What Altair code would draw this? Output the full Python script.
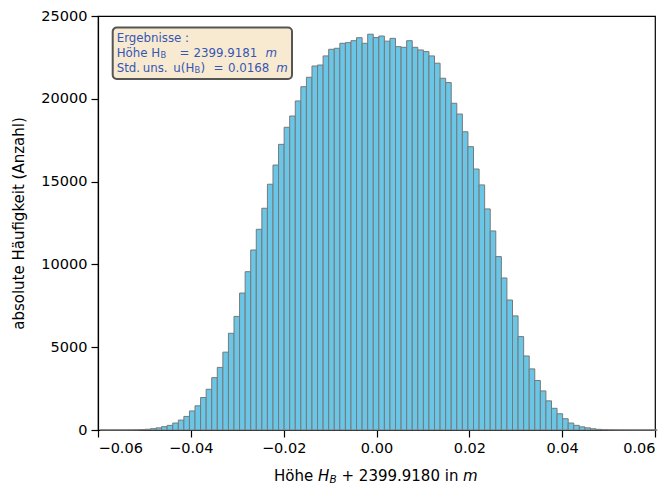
import altair as alt
import pandas as pd

# ---- data ----
bin_start0 = -0.0595
bin_width = 0.0012
counts = [
    0, 0, 1, 2, 3, 6, 12, 25,
    45, 80, 130, 200, 280, 420, 600, 820, 1150, 1460,
    1960, 2460, 3160, 3780, 4700, 5840, 6860, 8270, 9560, 10870,
    12120, 13390, 14840, 16000, 17250, 18280, 18960, 19870, 20730, 21300,
    21980, 22040, 22590, 22990, 23050, 23350, 23390, 23510, 23690, 23350,
    23900, 23700, 23790, 23480, 23650, 23150, 23110, 23510, 23110, 22950,
    22850, 22590, 22150, 21240, 20980, 19730, 19080, 18010, 17110, 15760,
    14800, 13350, 12020, 10470, 9180, 7850, 6890, 5640, 4470, 3690,
    2990, 2360, 1760, 1310, 980, 680, 420, 280, 190, 130,
    75, 40, 20, 10, 5, 2, 1, 0, 0, 0, 0, 0,
]
x_ticks = [-0.06, -0.04, -0.02, 0.0, 0.02, 0.04, 0.06]
y_ticks = [0, 5000, 10000, 15000, 20000, 25000]

starts = [bin_start0 + bin_width * i for i in range(len(counts))]
ends = [s + bin_width for s in starts]
df = pd.DataFrame({"start": starts, "end": ends, "count": counts})

FONT = "DejaVu Sans"
BLUE = "#3556b5"
one = pd.DataFrame({"a": [0]})

bars = alt.Chart(df).mark_bar(
    fill="#69c6e7", stroke="#787878", strokeWidth=1, orient="vertical"
).encode(
    x=alt.X("start:Q",
            scale=alt.Scale(domain=[-0.06, 0.06], nice=False, zero=False, padding=0),
            axis=alt.Axis(values=x_ticks, format=".2f", title=None)),
    x2="end:Q",
    y=alt.Y("count:Q",
            scale=alt.Scale(domain=[0, 25000], nice=False, padding=0),
            axis=alt.Axis(values=y_ticks, format="d",
                          title="absolute Häufigkeit (Anzahl)")),
    y2=alt.datum(0),
)


def txt(s, x, y, size=11.8, italic=False, color=BLUE):
    kw = dict(text=s, align="left", baseline="middle", fontSize=size,
              font=FONT, color=color)
    if italic:
        kw["fontStyle"] = "italic"
    return alt.Chart(one).mark_text(**kw).encode(x=alt.value(x), y=alt.value(y))


box = alt.Chart(one).mark_rect(
    fill="#f8ead0", stroke="#555555", strokeWidth=2, cornerRadius=4
).encode(x=alt.value(14.7), x2=alt.value(194), y=alt.value(11.5), y2=alt.value(63))

legend_texts = [
    txt("Ergebnisse :", 18.7, 22.3),
    txt("Höhe H", 18.7, 37.3),
    txt("B", 62.4, 40.3, size=8.3),
    txt("=", 81.5, 37.3),
    txt("2399.9181", 95.5, 37.3),
    txt("m", 167.5, 37.3, italic=True),
    txt("Std.", 18.7, 51.7),
    txt("uns.", 44.7, 51.7),
    txt("u(H", 75.3, 51.7),
    txt("B", 96.5, 54.7, size=8.3),
    txt(")", 102.4, 51.7),
    txt("=", 115.5, 51.7),
    txt("0.0168", 130.0, 51.7),
    txt("m", 178.2, 51.7, italic=True),
]

xtitle = [
    txt("Höhe", 176, 460, size=15, color="black"),
    txt("H", 220, 460, size=15, italic=True, color="black"),
    txt("B", 231.5, 464, size=10.5, italic=True, color="black"),
    txt("+ 2399.9180 in", 243.5, 460, size=15, color="black"),
    txt("m", 365, 460, size=15, italic=True, color="black"),
]

chart = alt.layer(bars, box, *legend_texts, *xtitle).properties(
    width=557, height=414,
    autosize=alt.AutoSizeParams(type="none"),
    padding={"left": 90, "top": 8, "right": 7, "bottom": 58},
).configure_view(
    stroke="black", strokeWidth=1.2
).configure_axis(
    grid=False, domainColor="black", domainWidth=1.2,
    tickColor="black", tickSize=7, tickWidth=1.2,
    labelFont=FONT, labelFontSize=14.5, labelColor="black", labelPadding=4,
    titleFont=FONT, titleFontSize=15, titleFontWeight="normal",
    titleColor="black", titlePadding=14,
)

chart.save("out.html", embed_options={"renderer": "svg", "actions": False})
